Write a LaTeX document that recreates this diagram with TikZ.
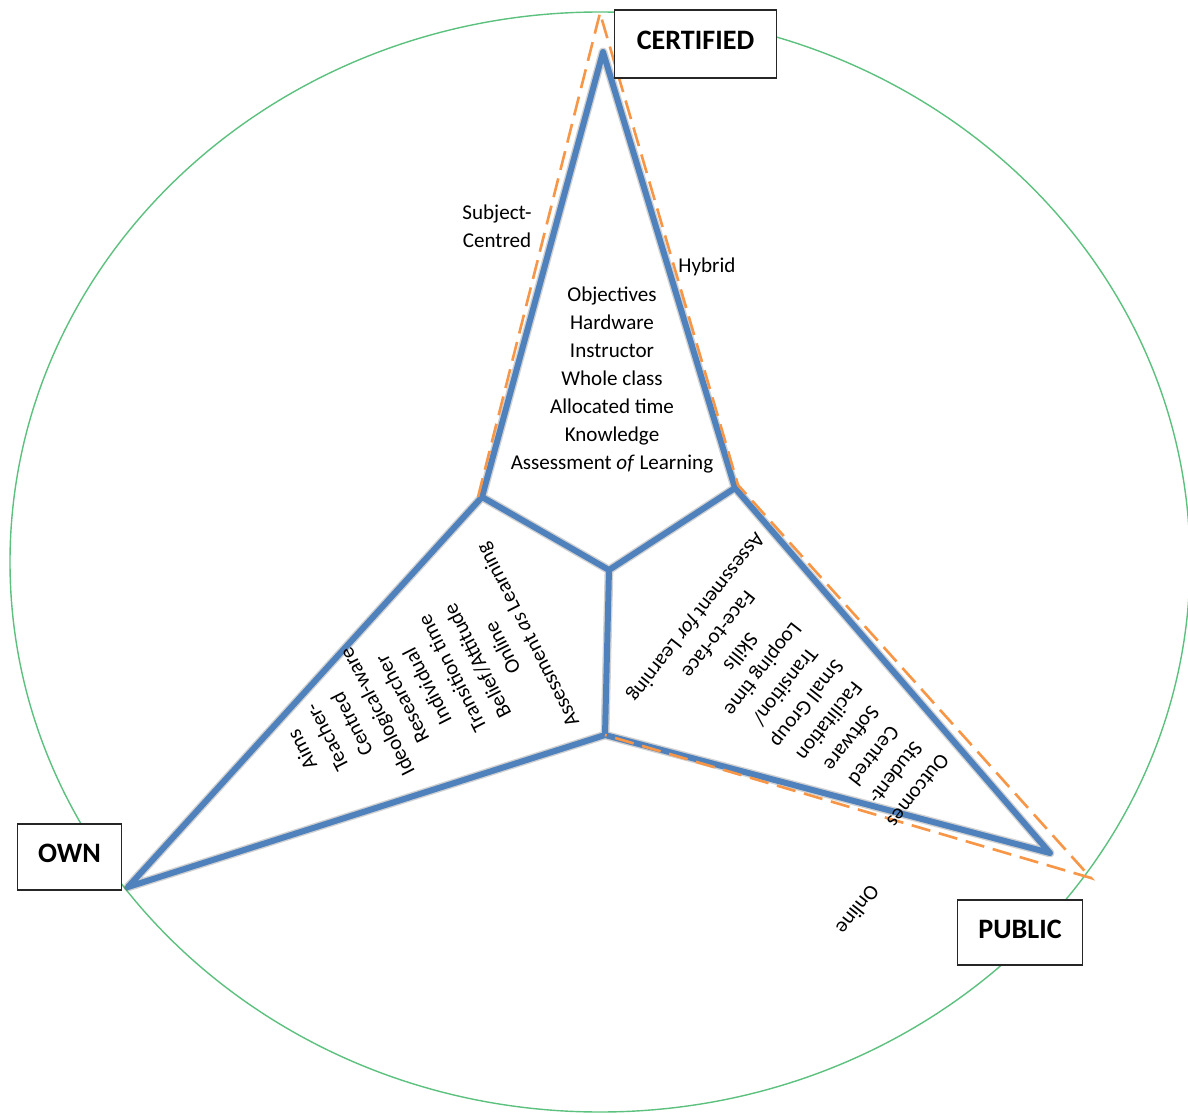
\documentclass[tikz,border=0pt]{standalone}
\usepackage{fontspec}
\setmainfont{Carlito}
\definecolor{starblue}{HTML}{4F81BD}
\definecolor{dashorange}{HTML}{F79646}
\definecolor{ringgreen}{HTML}{5CC17E}
\tikzset{
  corner/.style={draw=black!85, line width=0.8pt, fill=white, text height=11.5pt, text depth=5pt, font=\bfseries\fontsize{16}{19}\selectfont},
  item/.style={align=center, font=\fontsize{12}{16}\selectfont},
}
\begin{document}
\begin{tikzpicture}[x=0.02cm,y=-0.02cm]
            \useasboundingbox (0,0) rectangle (1188,1115);
            \draw[ringgreen, line width=0.8pt] (600,562) ellipse [x radius=590, y radius=550];
            \coordinate (apex) at (603,52);
            \coordinate (leftin) at (482,497);
            \coordinate (owntip) at (128,887);
            \coordinate (lowin) at (605,735);
            \coordinate (pubtip) at (1050,853);
            \coordinate (rightin) at (735,488);
            \coordinate (hub) at (609,570);
            \draw[black, opacity=0.18, line width=5pt, line join=round, shift={(2,4)}]
              (apex) -- (rightin) -- (pubtip) -- (lowin) -- (owntip) -- (leftin) -- cycle
              (leftin) -- (hub) -- (rightin) (hub) -- (lowin);
            \draw[starblue, line width=3.4pt, line join=round]
              (apex) -- (rightin) -- (pubtip) -- (lowin) -- (owntip) -- (leftin) -- cycle
              (leftin) -- (hub) -- (rightin) (hub) -- (lowin);
            \coordinate (dleft) at (478,497);
            \coordinate (dtop) at (600,13);
            \coordinate (dright) at (738,485);
            \coordinate (dtip) at (1091,878);
            \draw[dashorange, line width=1.5pt, dash pattern=on 11pt off 5pt]
              (dleft) -- (dtop) -- (dright) -- (dtip) -- (lowin);
            \node[item] (certlist) at (612,380) {Objectives\\Hardware\\Instructor\\Whole class\\Allocated time\\Knowledge\\Assessment \textit{of} Learning};
            \node[item, rotate=117] (ownlist) at (416,692) {Aims\\Teacher-\\Centred\\Ideological-ware\\Researcher\\Individual\\Transition time\\Belief/Attitude\\Online\\Assessment \textit{as} Learning};
            \node[item, rotate=-128] (publist) at (806,703) {Outcomes\\Student-\\Centred\\Software\\Facilitation\\Small Group\\Transition/\\Looping time\\Skills\\Face-to-face\\Assessment \textit{for} Learning};
            \node[item] (subject) at (497,226) {Subject-\\Centred};
            \node[item] (hybrid) at (707,267) {Hybrid};
            \node[item, rotate=-128] (online) at (858,910) {Online};
            \node[corner, minimum width=92pt, minimum height=38.5pt] (certified) at (695.5,44) {CERTIFIED};
            \node[corner, minimum width=59.5pt, minimum height=37.4pt] (own) at (69.5,857) {OWN};
            \node[corner, minimum width=71.4pt, minimum height=36.9pt] (public) at (1020,932.5) {PUBLIC};
          \end{tikzpicture}
\end{document}
